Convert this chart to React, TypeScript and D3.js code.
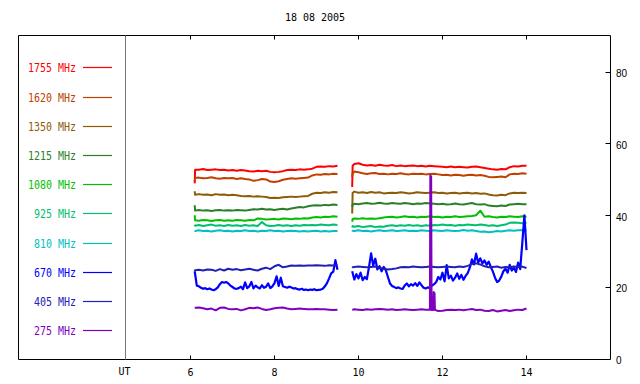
import React from 'react';
import * as d3 from 'd3';

const TITLE = '18 08 2005';
const X_TICKS = [6, 8, 10, 12, 14];
const Y_TICKS = [0, 20, 40, 60, 80];
const FREQS = ['1755', '1620', '1350', '1215', '1080', '925', '810', '670', '405', '275'];
const COLORS = ['#ff0000', '#c04000', '#8c5c08', '#2a802a', '#00c000', '#00c070', '#00c0c0', '#0000ff', '#2020b8', '#8000c0'];

const SEG1_HOURS = [6.1, 6.11, 6.2, 6.3, 6.4, 6.5, 6.6, 6.7, 6.8, 6.9, 7.0, 7.1, 7.2, 7.3, 7.4, 7.5, 7.6, 7.7, 7.8, 7.9, 8.0, 8.1, 8.2, 8.3, 8.4, 8.5, 8.6, 8.7, 8.8, 8.9, 9.0, 9.1, 9.2, 9.3, 9.4, 9.5];
const SEG2_HOURS = [9.85, 9.86, 9.9, 10.0, 10.1, 10.2, 10.3, 10.4, 10.5, 10.6, 10.7, 10.8, 10.9, 11.0, 11.1, 11.2, 11.3, 11.4, 11.5, 11.6, 11.7, 11.8, 11.9, 12.0, 12.1, 12.2, 12.3, 12.4, 12.5, 12.6, 12.7, 12.8, 12.9, 13.0, 13.1, 13.2, 13.3, 13.4, 13.5, 13.6, 13.7, 13.8, 13.9, 14.0];

const F1755_SEG1 = [49.1, 52.9, 52.9, 53.1, 52.8, 52.9, 53.0, 52.8, 52.9, 52.7, 52.8, 52.6, 52.8, 52.7, 52.5, 52.4, 52.6, 52.5, 52.6, 52.3, 52.2, 52.3, 52.5, 52.8, 52.9, 52.8, 53.0, 52.9, 53.0, 53.2, 53.7, 53.8, 53.7, 53.9, 53.8, 54.0];
const F1755_SEG2 = [48.1, 54.0, 54.5, 54.7, 54.3, 54.1, 54.2, 54.0, 54.3, 54.1, 54.0, 54.2, 53.9, 54.1, 53.9, 54.0, 54.1, 53.9, 54.0, 53.8, 54.0, 53.9, 53.8, 53.7, 53.6, 53.8, 53.6, 53.7, 53.6, 53.5, 53.7, 53.8, 53.6, 53.4, 53.2, 53.0, 52.9, 53.1, 53.0, 53.6, 53.9, 53.8, 54.0, 54.0];

const F1620_SEG1 = [49.5, 50.6, 50.7, 50.5, 50.6, 50.8, 50.5, 50.4, 50.6, 50.5, 50.6, 50.3, 50.5, 50.3, 50.2, 49.8, 50.0, 50.3, 50.2, 49.6, 49.5, 49.7, 50.1, 50.3, 50.5, 50.4, 50.5, 50.6, 50.7, 51.3, 51.6, 51.5, 51.7, 51.6, 51.8, 51.7];
const F1620_SEG2 = [50.9, 51.8, 52.4, 52.2, 51.9, 51.7, 51.9, 52.0, 51.7, 51.8, 51.6, 51.8, 51.7, 51.9, 51.7, 51.6, 51.8, 51.7, 51.8, 51.6, 51.7, 51.8, 51.6, 51.4, 51.5, 51.3, 51.5, 51.4, 51.2, 51.4, 51.5, 51.3, 51.4, 51.2, 50.9, 50.8, 50.9, 51.0, 50.8, 51.6, 51.8, 51.7, 51.9, 51.8];

const F1350_SEG1 = [46.9, 45.9, 46.1, 45.9, 46.0, 45.8, 46.1, 45.9, 46.0, 45.8, 45.9, 45.8, 45.6, 45.5, 45.6, 45.4, 45.5, 45.4, 45.3, 45.0, 45.1, 45.0, 45.2, 45.3, 45.4, 45.3, 45.4, 45.5, 45.6, 46.2, 46.5, 46.4, 46.6, 46.5, 46.7, 46.6];
const F1350_SEG2 = [40.7, 46.4, 46.8, 46.5, 46.6, 46.4, 46.7, 46.5, 46.6, 46.3, 46.4, 46.5, 46.4, 46.6, 46.5, 46.3, 46.4, 46.6, 46.5, 46.4, 46.5, 46.6, 46.4, 46.5, 46.3, 46.4, 46.5, 46.3, 46.4, 46.5, 46.3, 46.4, 46.2, 46.3, 46.0, 45.8, 45.7, 45.9, 45.8, 46.3, 46.5, 46.4, 46.5, 46.4];

const F1215_SEG1 = [43.0, 41.5, 41.7, 41.5, 41.6, 41.4, 41.6, 41.7, 41.5, 41.6, 41.5, 41.7, 41.6, 41.5, 41.7, 41.9, 41.8, 42.0, 41.8, 41.9, 41.7, 41.9, 42.0, 41.8, 42.1, 42.3, 42.5, 42.4, 42.7, 42.9, 43.0, 42.9, 43.1, 43.0, 43.2, 43.1];
const F1215_SEG2 = [42.5, 43.2, 43.4, 43.3, 43.5, 43.6, 43.4, 43.5, 43.7, 43.5, 43.4, 43.6, 43.5, 43.4, 43.6, 43.5, 43.3, 43.5, 43.4, 43.6, 43.5, 43.4, 43.3, 43.4, 43.2, 43.3, 43.5, 43.3, 43.2, 43.4, 43.6, 43.3, 43.2, 43.3, 42.9, 42.8, 42.7, 42.9, 42.8, 43.2, 43.3, 43.4, 43.3, 43.3];

const F1080_SEG1 = [40.2, 38.8, 38.7, 38.9, 38.8, 38.6, 38.8, 38.9, 38.7, 38.8, 38.7, 38.9, 38.8, 38.7, 38.9, 38.8, 39.3, 39.2, 39.0, 39.1, 39.2, 39.0, 39.3, 39.2, 39.1, 39.3, 39.2, 39.4, 39.3, 39.6, 39.7, 39.6, 39.8, 39.7, 39.9, 39.8];
const F1080_SEG2 = [38.4, 39.2, 39.3, 39.2, 39.4, 39.2, 39.3, 39.2, 39.4, 39.6, 39.7, 39.8, 39.6, 39.7, 39.9, 39.7, 39.8, 39.6, 39.8, 39.7, 39.9, 39.7, 39.8, 39.6, 39.8, 39.7, 39.9, 39.7, 39.8, 39.9, 40.0, 40.2, 41.5, 39.8, 39.9, 39.7, 39.6, 39.8, 39.7, 39.9, 39.8, 39.7, 39.9, 39.8];

const F925_SEG1 = [37.6, 37.3, 37.5, 37.2, 37.4, 37.6, 37.3, 37.4, 37.2, 37.5, 37.3, 37.4, 37.2, 37.5, 37.3, 37.4, 37.2, 38.3, 37.4, 37.2, 37.3, 37.5, 37.3, 37.4, 37.2, 37.4, 37.3, 37.5, 37.4, 37.5, 37.4, 37.6, 37.5, 37.4, 37.6, 37.5];
const F925_SEG2 = [36.8, 37.2, 37.0, 37.2, 36.9, 37.1, 37.2, 36.9, 37.1, 37.0, 37.3, 37.4, 37.2, 37.4, 37.3, 37.5, 37.3, 37.4, 37.2, 37.4, 37.3, 37.5, 37.4, 37.6, 37.4, 37.5, 37.3, 37.5, 37.4, 37.6, 37.5, 37.4, 37.6, 37.5, 37.3, 37.4, 37.2, 37.4, 37.6, 38.1, 38.2, 38.1, 38.0, 38.1];

const F810_SEG1 = [35.9, 35.8, 36.0, 35.8, 35.9, 35.7, 35.9, 36.0, 35.8, 35.9, 35.7, 35.9, 35.8, 36.0, 35.8, 35.9, 35.7, 35.9, 35.8, 36.0, 35.8, 35.9, 35.7, 35.8, 35.9, 35.8, 35.7, 35.8, 35.7, 35.8, 35.9, 35.7, 35.8, 35.7, 35.8, 35.8];
const F810_SEG2 = [35.7, 35.9, 35.8, 36.0, 35.8, 35.9, 35.7, 35.9, 36.0, 35.8, 35.9, 36.0, 35.8, 35.9, 36.0, 35.8, 35.9, 35.8, 36.0, 35.9, 35.8, 36.0, 35.9, 35.8, 36.0, 35.9, 35.8, 35.9, 36.1, 35.9, 36.0, 35.8, 35.6, 35.7, 35.5, 35.6, 35.8, 35.7, 35.9, 36.0, 35.9, 36.0, 36.1, 36.0];

// 670 MHz is sampled finer (every 0.05 h)
const F670_SEG1_START = 6.1;
const F670_SEG2_START = 9.85;
const F670_STEP = 0.05;
const F670_SEG1 = [24.6, 20.6, 20.4, 20.0, 19.7, 19.9, 19.6, 19.8, 19.5, 19.3, 19.6, 20.1, 21.0, 21.6, 21.4, 21.6, 21.2, 20.6,
  20.2, 19.8, 19.7, 19.9, 20.3, 19.6, 21.5, 19.9, 20.4, 21.6, 19.8, 20.6, 20.1, 19.8, 20.7, 20.0, 20.3, 21.2, 19.9, 20.4,
  21.3, 23.2, 20.5, 22.8, 20.4, 20.2, 20.0, 20.3, 20.1, 19.8, 19.9, 19.6, 19.5, 19.7, 19.4, 19.5, 19.3, 19.5, 19.4, 19.6,
  19.3, 19.4, 19.5, 19.7, 20.4, 21.3, 22.6, 24.0, 24.5, 27.7, 25.0];
const F670_SEG2 = [24.6, 22.3, 23.8,
  22.6, 24.2, 22.1, 23.0, 22.4, 25.8, 29.6, 26.2, 28.1, 25.1, 26.0, 24.6, 25.8, 24.9, 23.0, 21.2, 20.5, 20.2, 19.9, 20.1,
  19.8, 19.7, 20.6, 21.2, 20.4, 21.0, 20.6, 21.3, 20.5, 21.5, 20.7, 20.0, 19.8, 20.1, 19.9, 20.6, 21.0, 21.6, 23.0, 22.3,
  24.2, 21.8, 26.3, 22.6, 23.4, 22.0, 22.8, 24.0, 22.5, 23.6, 22.2, 23.3, 24.1, 25.6, 27.9, 26.5, 29.5, 27.0, 28.2, 26.8,
  27.6, 26.4, 27.3, 25.8, 24.5, 22.8, 21.6, 22.0, 23.1, 24.6, 25.3, 24.2, 26.4, 24.8, 25.6, 24.4, 27.0, 25.2, 32.5, 40.2,
  30.5];

const F405_SEG1 = [24.6, 24.9, 25.0, 24.8, 25.1, 25.0, 24.7, 25.2, 24.8, 25.3, 25.0, 25.2, 24.9, 25.1, 25.3, 25.0, 24.8, 25.3, 25.6, 25.2, 26.0, 26.4, 25.7, 25.9, 26.2, 26.1, 26.2, 26.1, 26.2, 26.2, 26.3, 26.2, 26.1, 26.3, 26.2, 26.3];
const F405_SEG2 = [25.6, 25.7, 25.8, 25.9, 25.8, 25.7, 25.8, 25.9, 25.6, 25.3, 25.1, 25.2, 25.4, 25.7, 25.8, 25.7, 25.9, 25.8, 25.7, 25.8, 25.9, 25.8, 25.7, 25.8, 25.9, 25.8, 25.7, 25.9, 25.8, 26.1, 26.6, 26.8, 26.5, 26.0, 25.7, 25.8, 25.9, 25.6, 25.8, 25.7, 25.9, 25.8, 25.9, 25.5];

const F275_SEG1 = [14.4, 14.4, 14.5, 14.3, 14.0, 14.2, 13.7, 14.4, 14.5, 14.1, 14.0, 14.1, 13.7, 14.0, 14.4, 14.3, 14.5, 14.1, 13.8, 14.0, 14.3, 14.4, 14.5, 14.2, 14.0, 14.1, 14.2, 14.1, 14.0, 14.0, 14.1, 14.0, 14.0, 13.9, 13.8, 13.9];
const F275_SEG2 = [13.9, 13.9, 14.0, 13.9, 13.8, 14.0, 13.9, 14.0, 14.1, 14.0, 13.9, 14.0, 13.8, 13.9, 14.0, 13.9, 13.8, 13.9, 14.0, 13.9, 13.9, 13.9, 13.5, 13.6, 13.8, 13.9, 13.8, 13.9, 13.7, 13.9, 14.1, 13.8, 13.9, 13.6, 13.5, 13.8, 13.4, 13.6, 13.8, 13.5, 13.7, 13.9, 13.8, 14.2];
const F275_BURST_HOURS = [11.7, 11.71, 11.73, 11.74, 11.78, 11.79, 11.81, 11.82];
const F275_BURST = [13.9, 51.3, 51.0, 13.9, 13.9, 18.8, 18.5, 13.9];

type Seg = { hours: number[]; values: number[] };
const fine = (start: number, vals: number[]) => vals.map((_, i) => start + i * F670_STEP);

const SERIES: Seg[][] = [
  [{ hours: SEG1_HOURS, values: F1755_SEG1 }, { hours: SEG2_HOURS, values: F1755_SEG2 }],
  [{ hours: SEG1_HOURS, values: F1620_SEG1 }, { hours: SEG2_HOURS, values: F1620_SEG2 }],
  [{ hours: SEG1_HOURS, values: F1350_SEG1 }, { hours: SEG2_HOURS, values: F1350_SEG2 }],
  [{ hours: SEG1_HOURS, values: F1215_SEG1 }, { hours: SEG2_HOURS, values: F1215_SEG2 }],
  [{ hours: SEG1_HOURS, values: F1080_SEG1 }, { hours: SEG2_HOURS, values: F1080_SEG2 }],
  [{ hours: SEG1_HOURS, values: F925_SEG1 }, { hours: SEG2_HOURS, values: F925_SEG2 }],
  [{ hours: SEG1_HOURS, values: F810_SEG1 }, { hours: SEG2_HOURS, values: F810_SEG2 }],
  [{ hours: fine(F670_SEG1_START, F670_SEG1), values: F670_SEG1 }, { hours: fine(F670_SEG2_START, F670_SEG2), values: F670_SEG2 }],
  [{ hours: SEG1_HOURS, values: F405_SEG1 }, { hours: SEG2_HOURS, values: F405_SEG2 }],
  [{ hours: SEG1_HOURS, values: F275_SEG1 }, { hours: SEG2_HOURS, values: F275_SEG2 }, { hours: F275_BURST_HOURS, values: F275_BURST }],
];

const W = 640, H = 384;
const LEFT = 18.5, RIGHT = 610.5, TOP = 35.5, BOTTOM = 359.5, UT_X = 125.5;

export default function App() {
  const x = d3.scaleLinear().domain([6, 14]).range([190.5, 526.5]);
  const y = d3.scaleLinear().domain([0, 80]).range([359.5, 72.5]);
  const line = d3.line<[number, number]>().x(d => x(d[0])).y(d => y(d[1]));
  const legendY = d3.scaleLinear().domain([0, 9]).range([67.3, 330.1]);
  const mono = 'DejaVu Sans Mono, monospace';

  return (
    <svg width={W} height={H} style={{ position: 'absolute', left: 0, top: 0, background: '#fff' }}>
      <rect x={0} y={0} width={W} height={H} fill="#fff" />
      <text x={315} y={17} dy="0.35em" textAnchor="middle" fontFamily={mono} fontSize={10} fill="#000">{TITLE}</text>

      {/* frame */}
      <line x1={LEFT} x2={RIGHT} y1={TOP} y2={TOP} stroke="#000" />
      <line x1={LEFT} x2={RIGHT} y1={BOTTOM} y2={BOTTOM} stroke="#000" />
      <line x1={LEFT} x2={LEFT} y1={TOP} y2={BOTTOM} stroke="#000" />
      <line x1={RIGHT} x2={RIGHT} y1={TOP} y2={BOTTOM} stroke="#000" />
      <line x1={UT_X} x2={UT_X} y1={TOP} y2={BOTTOM} stroke="#777" />

      {/* x ticks */}
      {X_TICKS.map(t => (
        <g key={'x' + t}>
          <line x1={Math.round(x(t)) - 0.5} x2={Math.round(x(t)) - 0.5} y1={TOP} y2={TOP + 4} stroke="#000" />
          <line x1={Math.round(x(t)) - 0.5} x2={Math.round(x(t)) - 0.5} y1={BOTTOM} y2={BOTTOM - 4} stroke="#000" />
          <text x={x(t)} y={372} dy="0.35em" textAnchor="middle" fontFamily={mono} fontSize={10} fill="#000">{t}</text>
        </g>
      ))}
      <text x={UT_X - 1} y={371} dy="0.35em" textAnchor="middle" fontFamily={mono} fontSize={10} fill="#000">UT</text>

      {/* y ticks right */}
      {Y_TICKS.map(t => (
        <g key={'y' + t}>
          {t > 0 && <line x1={RIGHT - 5} x2={RIGHT} y1={Math.round(y(t)) - 0.5} y2={Math.round(y(t)) - 0.5} stroke="#000" />}
          <text x={616} y={y(t) + 1} dy="0.35em" fontFamily="Liberation Sans, Arial, sans-serif" fontSize={10} fill="#000">{t}</text>
        </g>
      ))}

      {/* legend */}
      {FREQS.map((f, i) => {
        const ly = Math.round(legendY(i)) + 0.5;
        const label = `${f} MHz`;
        return (
          <g key={'l' + f}>
            <text x={76} y={ly} dy="0.36em" textAnchor="end" fontFamily={mono} fontSize={12}
              textLength={label.length * 6} lengthAdjust="spacingAndGlyphs" fill={COLORS[i]}>{label}</text>
            <line x1={83} x2={112} y1={ly} y2={ly} stroke={COLORS[i]} strokeWidth={1.2} />
          </g>
        );
      })}

      {/* data */}
      {SERIES.map((segs, i) => (
        <g key={'s' + i}>
          {segs.map((s, j) => (
            <path key={j} d={line(s.hours.map((h, k) => [h, s.values[k]] as [number, number])) || ''}
              fill="none" stroke={COLORS[i]} strokeWidth={i === 7 ? 2.2 : 2} strokeLinejoin="round" />
          ))}
        </g>
      ))}
    </svg>
  );
}
